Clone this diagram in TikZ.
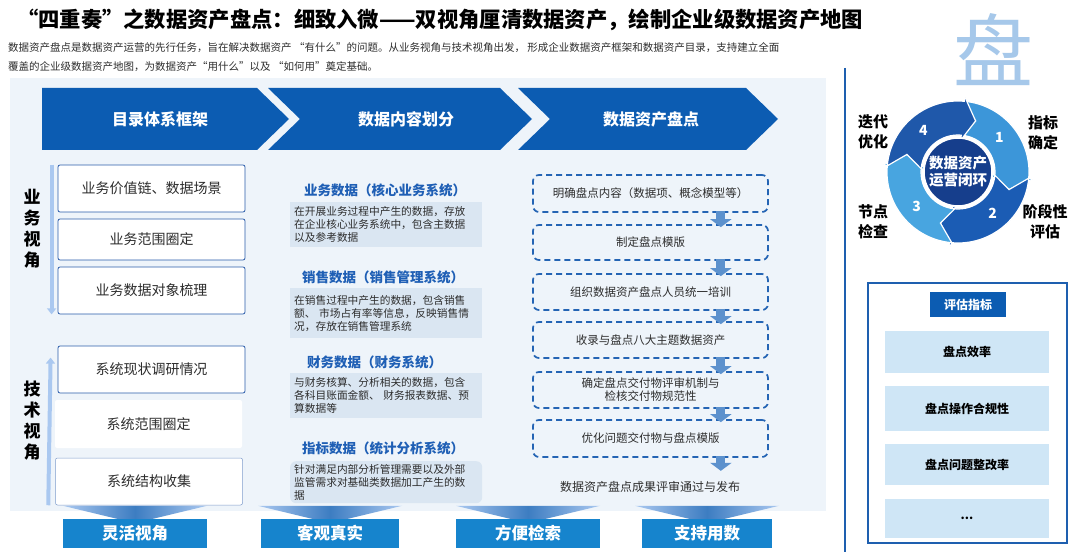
\documentclass[tikz,border=0pt]{standalone}
\usepackage{fontspec}
\setmainfont{Noto Sans CJK SC}
\usepackage{xcolor}
\usepackage{tikz}
\usetikzlibrary{calc,arrows.meta,positioning}
\definecolor{pdNavy}{RGB}{12,92,178}
\definecolor{pdHead}{RGB}{31,95,181}
\definecolor{pdPanel}{RGB}{238,244,250}
\definecolor{pdBorder}{RGB}{42,92,170}
\definecolor{pdBar}{RGB}{170,200,240}
\definecolor{pdDesc}{RGB}{218,230,242}
\definecolor{pdDash}{RGB}{36,100,180}
\definecolor{pdFlow}{RGB}{92,145,205}
\definecolor{pdLabel}{RGB}{22,132,205}
\definecolor{pdRingA}{RGB}{60,150,217}
\definecolor{pdRingB}{RGB}{27,92,180}
\definecolor{pdRingC}{RGB}{72,165,224}
\definecolor{pdRingD}{RGB}{31,88,170}
\definecolor{pdCore}{RGB}{22,62,140}
\definecolor{pdItem}{RGB}{207,230,246}
\definecolor{pdChar}{RGB}{166,200,234}
\definecolor{pdText}{RGB}{45,45,45}
\definecolor{pdLine}{RGB}{30,95,175}
\newcommand{\fsz}[2]{\fontsize{#1}{#2}\selectfont}

\begin{document}
\begin{tikzpicture}[x=1pt,y=-1pt,
    leftbox/.style={draw=pdBorder, fill=white, line width=0.8pt, rounded corners=2pt,
        minimum width=187pt, font=\fsz{14}{16}, text=pdText},
    sidelabel/.style={font=\bfseries\fsz{17}{21}, align=center},
    cathead/.style={font=\bfseries\fsz{13.5}{16}, text=pdHead, anchor=west, inner sep=1pt},
    descbox/.style={fill=pdDesc, text width=184pt, inner xsep=4pt, inner ysep=2pt, align=left,
        font=\fsz{10.7}{13}, text=pdText, anchor=north west},
    stepbox/.style={draw=pdDash, line width=1.7pt, dash pattern=on 6pt off 4pt,
        rounded corners=6pt, minimum width=235pt, minimum height=36pt,
        font=\fsz{11.5}{13}, text=pdText, align=center},
    flowarr/.style={pdFlow, line width=9pt, -{Triangle[width=21pt,length=8pt]}},
    bar/.style={pdBar, line width=4pt, -{Triangle[width=9pt,length=6pt]}},
    gainlabel/.style={fill=pdLabel, text=white, font=\bfseries\fsz{16.5}{18}, minimum height=29pt},
    evalitem/.style={fill=pdItem, minimum width=164pt, font=\bfseries\fsz{12}{14}},
    cyclabel/.style={font=\bfseries\fsz{15}{20}, align=center}
]
    \useasboundingbox (0,0) rectangle (1080,556);
    \fill[white] (0,0) rectangle (1080,556);

    % title
    \node[anchor=west, inner sep=0pt, font=\bfseries\fsz{21.3}{24}] (title) at (17,20)
        {“四重奏”之数据资产盘点：细致入微——双视角厘清数据资产，绘制企业级数据资产地图};
    \node[anchor=west, inner sep=0pt, font=\fsz{10.5}{12}, text=pdText] (intro1) at (8,48)
        {数据资产盘点是数据资产运营的先行任务，旨在解决数据资产 “有什么”的问题。从业务视角与技术视角出发， 形成企业数据资产框架和数据资产目录，支持建立全面};
    \node[anchor=west, inner sep=0pt, font=\fsz{10.5}{12}, text=pdText] (intro2) at (8,67)
        {覆盖的企业级数据资产地图，为数据资产“用什么”以及 “如何用”奠定基础。};

    % big character
    \node[text=pdChar, font=\fsz{80}{80}, inner sep=0pt] (bigchar) at (993,50) {盘};

    % panel
    \fill[pdPanel] (10,78) rectangle (826,511);
    \draw[pdLine, line width=2.5pt] (845,68) -- (845,552);

    % chevrons
    \fill[pdNavy] (42,88) -- (257,88) -- (289,119) -- (257,150) -- (42,150) -- cycle;
    \fill[pdNavy] (268,88) -- (500,88) -- (532,119) -- (500,150) -- (268,150) -- (300,119) -- cycle;
    \fill[pdNavy] (518,88) -- (746,88) -- (778,119) -- (746,150) -- (518,150) -- (550,119) -- cycle;
    \node[text=white, font=\bfseries\fsz{16}{18}] (hd1) at (160,119) {目录体系框架};
    \node[text=white, font=\bfseries\fsz{16}{18}] (hd2) at (406,119) {数据内容划分};
    \node[text=white, font=\bfseries\fsz{16}{18}] (hd3) at (651,119) {数据资产盘点};

    % two views
    \node[leftbox, minimum height=47pt] (b1) at (151.5,188.5) {业务价值链、数据场景};
    \node[leftbox, minimum height=41pt] (b2) at (151.5,239.5) {业务范围圈定};
    \node[leftbox, minimum height=47pt] (b3) at (151.5,290.5) {业务数据对象梳理};
    \node[leftbox, minimum height=47pt] (b4) at (151.5,369.5) {系统现状调研情况};
    \node[leftbox, draw=none, minimum height=48pt] (b5) at (148.5,424) {系统范围圈定};
    \node[leftbox, draw=pdBorder!60, line width=0.5pt, minimum height=47pt] (b6) at (149,481.5) {系统结构收集};
    \draw[bar] ([xshift=-6pt]b1.north west) -- ([xshift=-6pt]b3.south west);
    \draw[bar] ([xshift=-7pt]b6.south west) -- ([xshift=-7pt,yshift=-12pt]b4.north west);
    \node[sidelabel] (bizview) at (32,228.5) {业\\务\\视\\角};
    \node[sidelabel] (techview) at (32,421) {技\\术\\视\\角};

    % data categories
    \node[cathead] (cat1) at (303,190) {业务数据（核心业务系统）};
    \node[descbox, minimum height=45pt] (desc1) at (290,202)
        {在开展业务过程中产生的数据，存放\\在企业核心业务系统中，包含主数据\\以及参考数据};
    \node[cathead] (cat2) at (301,277) {销售数据（销售管理系统）};
    \node[descbox, minimum height=50pt] (desc2) at (290,288)
        {在销售过程中产生的数据，包含销售\\额、 市场占有率等信息，反映销售情\\况，存放在销售管理系统};
    \node[cathead] (cat3) at (306,362) {财务数据（财务系统）};
    \node[descbox, minimum height=45pt] (desc3) at (290,373)
        {与财务核算、分析相关的数据，包含\\各科目账面金额、 财务报表数据、预\\算数据等};
    \node[cathead] (cat4) at (301,448) {指标数据（统计分析系统）};
    \node[descbox, rounded corners=6pt, minimum height=42pt] (desc4) at (290,461)
        {针对满足内部分析管理需要以及外部\\监管需求对基础类数据加工产生的数\\据};

    % inventory steps
    \node[stepbox, minimum height=37pt] (pd1) at (650.5,193.5) {明确盘点内容（数据项、概念模型等）};
    \node[stepbox, minimum height=35pt] (pd2) at (650.5,242.5) {制定盘点模版};
    \node[stepbox] (pd3) at (650.5,292) {组织数据资产盘点人员统一培训};
    \node[stepbox] (pd4) at (650.5,340) {收录与盘点八大主题数据资产};
    \node[stepbox] (pd5) at (650.5,390) {确定盘点交付物评审机制与\\检核交付物规范性};
    \node[stepbox, minimum height=37pt] (pd6) at (650.5,438.5) {优化问题交付物与盘点模版};
    \node[font=\fsz{12}{14}, text=pdText] (pdend) at (650,487) {数据资产盘点成果评审通过与发布};
    \foreach \a/\b in {pd1/pd2, pd2/pd3, pd3/pd4, pd4/pd5, pd5/pd6}
        \draw[flowarr] ([xshift=-48pt,yshift=2pt]\a.south east) -- ([xshift=-48pt,yshift=-3pt]\b.north east);
    \draw[flowarr] ([xshift=-48pt,yshift=2pt]pd6.south east) -- ([xshift=-48pt,yshift=-13pt]pd6.south east);

    % gains
    \node[gainlabel, minimum width=144pt] (lb1) at (135,533.5) {灵活视角};
    \node[gainlabel, minimum width=138pt] (lb2) at (330,533.5) {客观真实};
    \node[gainlabel, minimum width=144pt] (lb3) at (528,533.5) {方便检索};
    \node[gainlabel, minimum width=130pt] (lb4) at (707,533.5) {支持用数};
    \foreach \n in {lb1,lb2,lb3,lb4}
        \shade[left color=pdBar, right color=pdBar, middle color=pdNavy!80]
            ($(\n.north)+(-72,-13)$) -- ($(\n.north)+(72,-13)$)
            -- ($(\n.north)+(18,0)$) -- ($(\n.north)+(-18,0)$) -- cycle;

    % closed loop
    \pgfmathsetmacro{\ra}{37}
    \pgfmathsetmacro{\rb}{71}
    \pgfmathsetmacro{\rm}{(\ra+\rb)/2}
    \begin{scope}[shift={(958,172)}]
        \foreach \k/\col in {1/pdRingA, 2/pdRingB, 3/pdRingC, 4/pdRingD}{
            \pgfmathsetmacro{\s}{85-90*(\k-1)}
            \pgfmathsetmacro{\e}{\s-90}
            \filldraw[fill=\col, draw=white, line width=1.2pt]
                (\s:\rb pt) arc[start angle=\s, end angle=\e, radius=\rb pt]
                -- (\e:\rb pt+5pt) -- (\e-14:\rm pt) -- (\e:\ra pt-5pt) -- (\e:\ra pt)
                arc[start angle=\e, end angle=\s, radius=\ra pt]
                -- (\s-14:\rm pt) -- cycle;
            \node[text=white, font=\bfseries\fsz{14}{16}] (num\k) at (\s-45:54pt) {\k};
        }
        \filldraw[fill=pdCore, draw=white, line width=1.5pt] (0pt,0pt) circle[radius=34pt];
        \node[text=white, font=\bfseries\fsz{14.5}{17}, align=center] (core) at (0,0) {数据资产\\运营闭环};
    \end{scope}
    \node[cyclabel] (stage1) at (1043,133) {指标\\确定};
    \node[cyclabel] (stage2) at (1045,222) {阶段性\\评估};
    \node[cyclabel] (stage3) at (873,222) {节点\\检查};
    \node[cyclabel] (stage4) at (873,132) {迭代\\优化};

    % evaluation
    \draw[pdLine, line width=1.5pt, fill=white] (868,283) rectangle (1067,543);
    \node[fill=pdNavy, text=white, font=\bfseries\fsz{12}{14}, minimum width=76pt, minimum height=25pt] (evhd) at (968,304.5) {评估指标};
    \node[evalitem, minimum height=42pt] (ev1) at (967,352) {盘点效率};
    \node[evalitem, minimum height=45pt] (ev2) at (967,408.5) {盘点操作合规性};
    \node[evalitem, minimum height=41pt] (ev3) at (967,464.5) {盘点问题整改率};
    \node[evalitem, minimum height=39pt] (ev4) at (967,518.5) {...};
\end{tikzpicture}
\end{document}
